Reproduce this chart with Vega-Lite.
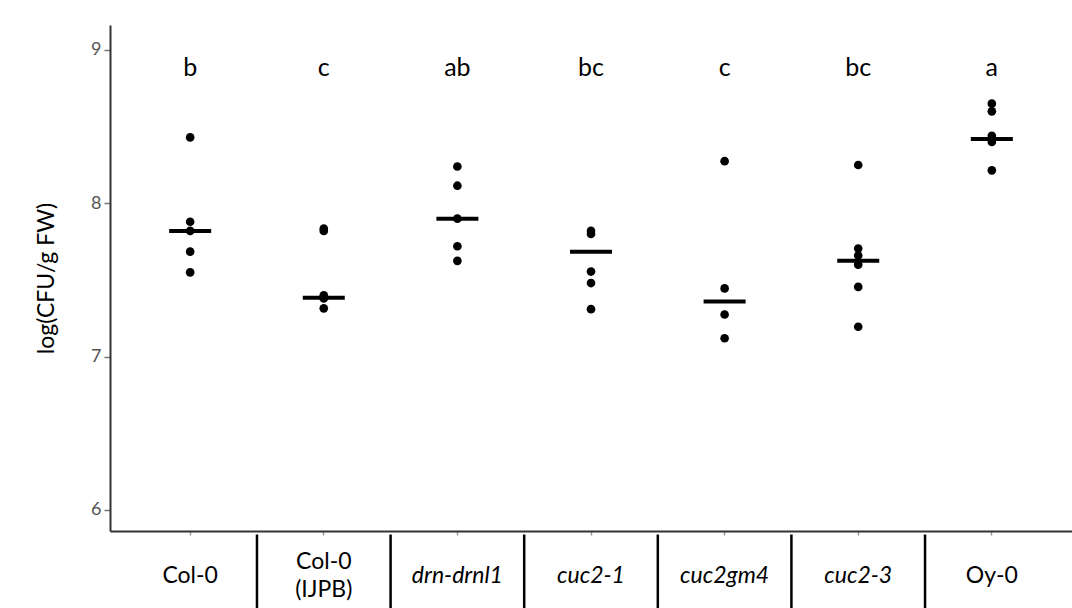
{
  "$schema": "https://vega.github.io/schema/vega-lite/v6.json",
  "width": 962,
  "height": 506,
  "autosize": {"type": "none"},
  "padding": {"left": 110, "top": 25, "right": 0, "bottom": 77},
  "background": "white",
  "config": {"view": {"stroke": null}, "font": "Lato"},
  "datasets": {
    "points": [
      {"g": "Col-0", "v": 8.43}, {"g": "Col-0", "v": 7.88}, {"g": "Col-0", "v": 7.82}, {"g": "Col-0", "v": 7.685}, {"g": "Col-0", "v": 7.55},
      {"g": "Col-0 (IJPB)", "v": 7.835}, {"g": "Col-0 (IJPB)", "v": 7.82}, {"g": "Col-0 (IJPB)", "v": 7.40}, {"g": "Col-0 (IJPB)", "v": 7.38}, {"g": "Col-0 (IJPB)", "v": 7.315},
      {"g": "drn-drnl1", "v": 8.24}, {"g": "drn-drnl1", "v": 8.115}, {"g": "drn-drnl1", "v": 7.90}, {"g": "drn-drnl1", "v": 7.72}, {"g": "drn-drnl1", "v": 7.625},
      {"g": "cuc2-1", "v": 7.82}, {"g": "cuc2-1", "v": 7.80}, {"g": "cuc2-1", "v": 7.555}, {"g": "cuc2-1", "v": 7.48}, {"g": "cuc2-1", "v": 7.31},
      {"g": "cuc2gm4", "v": 8.275}, {"g": "cuc2gm4", "v": 7.445}, {"g": "cuc2gm4", "v": 7.275}, {"g": "cuc2gm4", "v": 7.12},
      {"g": "cuc2-3", "v": 8.25}, {"g": "cuc2-3", "v": 7.705}, {"g": "cuc2-3", "v": 7.66}, {"g": "cuc2-3", "v": 7.60}, {"g": "cuc2-3", "v": 7.455}, {"g": "cuc2-3", "v": 7.195},
      {"g": "Oy-0", "v": 8.65}, {"g": "Oy-0", "v": 8.60}, {"g": "Oy-0", "v": 8.44}, {"g": "Oy-0", "v": 8.40}, {"g": "Oy-0", "v": 8.215}
    ],
    "summary": [
      {"g": "Col-0", "m": 7.82, "letter": "b"},
      {"g": "Col-0 (IJPB)", "m": 7.385, "letter": "c"},
      {"g": "drn-drnl1", "m": 7.90, "letter": "ab"},
      {"g": "cuc2-1", "m": 7.685, "letter": "bc"},
      {"g": "cuc2gm4", "m": 7.36, "letter": "c"},
      {"g": "cuc2-3", "m": 7.625, "letter": "bc"},
      {"g": "Oy-0", "m": 8.42, "letter": "a"}
    ]
  },
  "encoding": {
    "x": {
      "field": "g",
      "type": "nominal",
      "sort": ["Col-0", "Col-0 (IJPB)", "drn-drnl1", "cuc2-1", "cuc2gm4", "cuc2-3", "Oy-0"],
      "scale": {"type": "band", "paddingInner": 0, "paddingOuter": 0.1},
      "axis": {
        "title": null,
        "labelAngle": 0,
        "labelFont": "Lato",
        "labelFontSize": 23,
        "labelColor": "black",
        "labelBaseline": "middle",
        "labelLineHeight": 28,
        "labelPadding": {"condition": {"test": "datum.value == 'Col-0 (IJPB)'", "value": 26}, "value": 40},
        "labelExpr": "datum.value == 'Col-0 (IJPB)' ? ['Col-0', '(IJPB)'] : datum.value",
        "labelFontStyle": {"condition": {"test": "indexof(['drn-drnl1','cuc2-1','cuc2gm4','cuc2-3'], datum.value) >= 0", "value": "italic"}, "value": "normal"},
        "tickSize": 4,
        "tickColor": "#999999",
        "tickWidth": 1.5,
        "domainColor": "#333333",
        "domainWidth": 2,
        "grid": false
      }
    }
  },
  "layer": [
    {
      "data": {"name": "summary"},
      "transform": [{"filter": "datum.g != 'Oy-0'"}],
      "mark": {"type": "rule", "color": "black", "strokeWidth": 2.5},
      "encoding": {
        "x": {"field": "g", "type": "nominal", "bandPosition": 1},
        "y": {"datum": 5.84},
        "y2": {"datum": 5.36}
      }
    },
    {
      "data": {"name": "points"},
      "mark": {"type": "circle", "size": 75, "color": "black", "opacity": 1},
      "encoding": {
        "y": {
          "field": "v",
          "type": "quantitative",
          "scale": {"domain": [5.863, 9.163], "nice": false, "zero": false},
          "axis": {
            "title": "log(CFU/g FW)",
            "titleFont": "Lato",
            "titleFontSize": 23,
            "titleFontWeight": "normal",
            "titleColor": "black",
            "titlePadding": 32,
            "values": [6, 7, 8, 9],
            "format": "d",
            "labelFont": "Lato",
            "labelFontSize": 18,
            "labelColor": "#555555",
            "labelPadding": 3,
            "tickSize": 6,
            "tickColor": "#777777",
            "tickWidth": 1.5,
            "domainColor": "#333333",
            "domainWidth": 2,
            "grid": false
          }
        }
      }
    },
    {
      "data": {"name": "summary"},
      "mark": {"type": "tick", "color": "black", "size": 42, "thickness": 4, "opacity": 1},
      "encoding": {
        "y": {"field": "m", "type": "quantitative"}
      }
    },
    {
      "data": {"name": "summary"},
      "mark": {"type": "text", "font": "Lato", "fontSize": 25, "color": "black", "baseline": "middle"},
      "encoding": {
        "y": {"datum": 8.885},
        "text": {"field": "letter"}
      }
    }
  ]
}
